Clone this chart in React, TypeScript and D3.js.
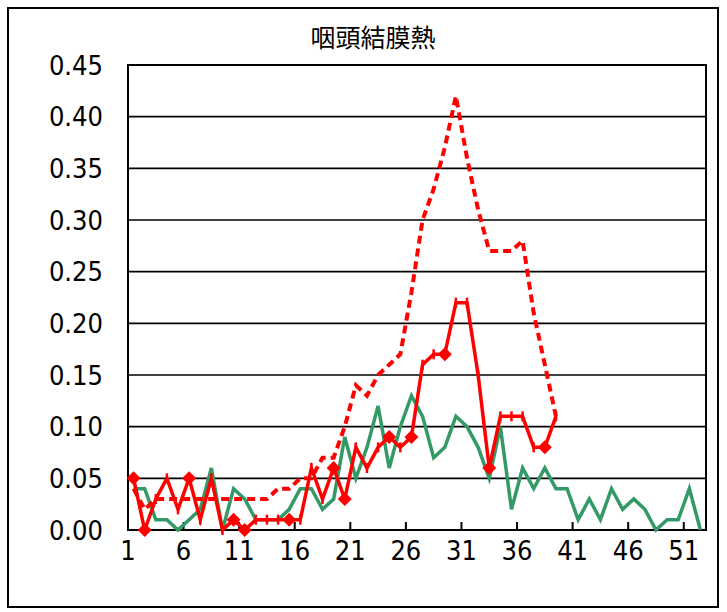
import React from 'react';
import * as d3 from 'd3';

// week numbers 1..52 on the category axis
const weeks: number[] = Array.from({ length: 52 }, (_, i) => i + 1);

const xTickWeeks: number[] = [1, 6, 11, 16, 21, 26, 31, 36, 41, 46, 51];
const yTickValues: number[] = [0, 0.05, 0.1, 0.15, 0.2, 0.25, 0.3, 0.35, 0.4, 0.45];

// green line, full year
const greenValues: number[] = [
   0.04, 0.04, 0.01, 0.01, 0.0, 0.01, 0.02, 0.06, 0.0, 0.04,
   0.03, 0.01, 0.01, 0.01, 0.02, 0.04, 0.04, 0.02, 0.03, 0.09,
   0.05, 0.08, 0.12, 0.06, 0.1, 0.13, 0.11, 0.07, 0.08, 0.11,
   0.1, 0.08, 0.05, 0.1, 0.02, 0.06, 0.04, 0.06, 0.04, 0.04,
   0.01, 0.03, 0.01, 0.04, 0.02, 0.03, 0.02, 0.0, 0.01, 0.01,
   0.04, 0.0,
];

// red solid line with markers (weeks 1..39)
const redValues: number[] = [
   0.05, 0.0, 0.03, 0.05, 0.02, 0.05, 0.01, 0.05, 0.0, 0.01,
   0.0, 0.01, 0.01, 0.01, 0.01, 0.01, 0.06, 0.03, 0.06, 0.03,
   0.08, 0.06, 0.08, 0.09, 0.08, 0.09, 0.16, 0.17, 0.17, 0.22,
   0.22, 0.15, 0.06, 0.11, 0.11, 0.11, 0.08, 0.08, 0.11,
];

// weeks of the red solid line drawn with a diamond marker
const diamondWeeks: number[] = [1, 2, 6, 10, 11, 15, 19, 20, 24, 26, 29, 33, 38];

// red dotted line (weeks 1..39)
const redDottedValues: number[] = [
   0.04, 0.02, 0.03, 0.03, 0.03, 0.03, 0.03, 0.03, 0.03, 0.03,
   0.03, 0.03, 0.03, 0.04, 0.04, 0.05, 0.05, 0.07, 0.07, 0.1,
   0.14, 0.13, 0.15, 0.16, 0.17, 0.23, 0.3, 0.33, 0.37, 0.42,
   0.36, 0.31, 0.27, 0.27, 0.27, 0.28, 0.21, 0.16, 0.11,
];

const title = '咽頭結膜熱';

const W = 727;
const H = 612;
const plot = { left: 128, right: 706, top: 65, bottom: 530 };
const labelFont = "'Liberation Sans Narrow', 'Arial Narrow', 'DejaVu Sans Condensed', sans-serif";

const App: React.FC = () => {
   const x = d3.scaleBand<number>().domain(weeks).range([plot.left, plot.right]).padding(0);
   const y = d3.scaleLinear().domain([0, 0.45]).range([plot.bottom, plot.top]);
   const cx = (w: number) => (x(w) ?? 0) + x.bandwidth() / 2;

   const line = d3
      .line<number>()
      .x((_, i) => cx(i + 1))
      .y((d) => y(d));

   const redPoints = redValues.map((v, i) => ({ w: i + 1, v }));

   return (
      <svg
         width={W}
         height={H}
         style={{ position: 'absolute', left: 0, top: 0, background: '#fff' }}
      >
         <rect x={8} y={8} width={710} height={599} fill="#fff" stroke="#000" strokeWidth={2} />

         <text
            x={373}
            y={47}
            textAnchor="middle"
            fontFamily="'Noto Sans CJK JP', sans-serif"
            fontSize={25}
            fill="#000"
         >
            {title}
         </text>

         {/* gridlines */}
         {yTickValues.map((t) => (
            <line
               key={'g' + t}
               x1={plot.left}
               x2={plot.right}
               y1={y(t)}
               y2={y(t)}
               stroke="#000"
               strokeWidth={1.6}
            />
         ))}

         {/* plot frame */}
         <rect
            x={plot.left}
            y={plot.top}
            width={plot.right - plot.left}
            height={plot.bottom - plot.top}
            fill="none"
            stroke="#000"
            strokeWidth={2}
         />

         {/* y labels */}
         {yTickValues.map((t) => (
            <text
               key={'yl' + t}
               x={103}
               y={y(t)}
               dy="0.36em"
               textAnchor="end"
               fontFamily={labelFont}
               fontSize={27}
               fill="#000"
            >
               {t.toFixed(2)}
            </text>
         ))}

         {/* x ticks and labels */}
         {xTickWeeks.map((w) => (
            <g key={'xt' + w}>
               {w > 1 && (
                  <line
                     x1={x(w)}
                     x2={x(w)}
                     y1={plot.bottom}
                     y2={plot.bottom - 8}
                     stroke="#000"
                     strokeWidth={2}
                  />
               )}
               <text
                  x={x(w)}
                  y={560}
                  textAnchor="middle"
                  fontFamily={labelFont}
                  fontSize={27}
                  fill="#000"
               >
                  {w}
               </text>
            </g>
         ))}

         {/* green series */}
         <path
            d={line(greenValues) ?? ''}
            fill="none"
            stroke="#339966"
            strokeWidth={3.5}
            strokeLinejoin="miter"
         />

         {/* red dotted series */}
         <path
            d={line(redDottedValues) ?? ''}
            fill="none"
            stroke="#ff0000"
            strokeWidth={4}
            strokeDasharray="8 5"
         />

         {/* red solid series */}
         <path
            d={line(redValues) ?? ''}
            fill="none"
            stroke="#ff0000"
            strokeWidth={3.5}
         />
         {redPoints.map((p) =>
            diamondWeeks.includes(p.w) ? (
               <path
                  key={'m' + p.w}
                  d={`M${cx(p.w)},${y(p.v) - 7}L${cx(p.w) + 7},${y(p.v)}L${cx(p.w)},${y(p.v) + 7}L${cx(p.w) - 7},${y(p.v)}Z`}
                  fill="#ff0000"
               />
            ) : (
               <line
                  key={'m' + p.w}
                  x1={cx(p.w)}
                  x2={cx(p.w)}
                  y1={y(p.v) - 5}
                  y2={y(p.v) + 5}
                  stroke="#ff0000"
                  strokeWidth={2.5}
               />
            )
         )}
      </svg>
   );
};

export default App;
